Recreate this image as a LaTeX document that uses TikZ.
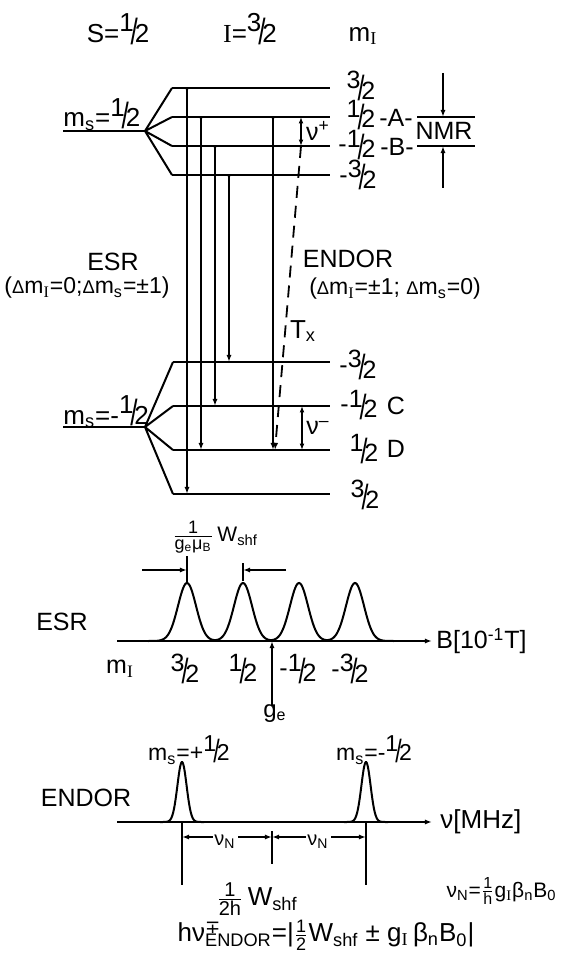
\documentclass[tikz,border=0pt]{standalone}
\usepackage{graphicx}
\usepackage{fontspec}
\setmainfont{Liberation Sans}
\newfontfamily\serifI{Liberation Serif}
\newfontfamily\dvs{DejaVu Sans}
\usetikzlibrary{arrows.meta}
\newcommand\fs[1]{\fontsize{#1}{#1}\selectfont}
\newcommand\fr[2]{\raisebox{.42em}{#1}\kern-.12em\raisebox{-.06em}{\scalebox{1}[1.4]{/}}\kern-.12em#2}
\newcommand\mn{\raisebox{.2em}{-}}
\newcommand\mI{m\textsubscript{\serifI I}}
\newcommand\mS{m\textsubscript{s}}
\newcommand\mfrac[2]{$\frac{\mbox{#1}}{\mbox{#2}}$}
\newcommand\sDelta{\scalebox{.8}{Δ}}
\pgfmathdeclarefunction{gpk}{3}{\pgfmathparse{exp(max(-20,-0.5*((#1-#2)/#3)*((#1-#2)/#3)))}}
\begin{document}
\begin{tikzpicture}[x=0.5pt,y=-0.5pt,
  every node/.style={inner sep=0pt},
  font=\fs{12.5},
  lvl/.style={line width=1.4pt},
  fan/.style={line width=1pt},
  tr/.style={line width=0.9pt},
  myarr/.style={-{Latex[length=3.6pt,width=2.6pt]}},
  esr/.style={tr,{Latex[length=2.2pt,width=2pt,reversed]}-{Latex[length=3.6pt,width=2.6pt]}},
  dbl/.style={tr,{Latex[length=3.2pt,width=2.4pt]}-{Latex[length=3.2pt,width=2.4pt]}},
  spec/.style={line width=1pt}]
\useasboundingbox (0,0) rectangle (563,957);

% ---------- headings
\node (tS) at (118,29) {\fs{13}S=\fr{1}{2}};
\node (tI) at (250,29) {\fs{13}{\serifI I}=\fr{3}{2}};
\node (tm) at (363,36) {\fs{13}\mI};

% ---------- upper manifold (m_s = 1/2)
\coordinate (U) at (145,131);
\coordinate (Ums) at (63,131);
\coordinate (L1) at (172,88);  \coordinate (L1e) at (330,88);
\coordinate (L2) at (172,117); \coordinate (L2e) at (330,117);
\coordinate (L3) at (172,146); \coordinate (L3e) at (330,146);
\coordinate (L4) at (172,175); \coordinate (L4e) at (330,175);
\draw[lvl] (Ums) -- (U);
\draw[fan] (U) -- (L1) (U) -- (L2) (U) -- (L3) (U) -- (L4);
\draw[lvl] (L1) -- (L1e) (L2) -- (L2e) (L3) -- (L3e) (L4) -- (L4e);
\node[anchor=base west] (msU) at (63,127) {\fs{13}\mS=\fr{1}{2}};

% ---------- lower manifold (m_s = -1/2)
\coordinate (D) at (145,427);
\coordinate (Dms) at (63,427);
\coordinate (M1) at (173,362); \coordinate (M1e) at (330,362);
\coordinate (M2) at (173,406); \coordinate (M2e) at (330,406);
\coordinate (M3) at (173,450); \coordinate (M3e) at (330,450);
\coordinate (M4) at (173,494); \coordinate (M4e) at (330,494);
\draw[lvl] (Dms) -- (D);
\draw[fan] (D) -- (M1) (D) -- (M2) (D) -- (M3) (D) -- (M4);
\draw[lvl] (M1) -- (M1e) (M2) -- (M2e) (M3) -- (M3e) (M4) -- (M4e);
\node[anchor=base west] (msD) at (63,424) {\fs{13}\mS=-\fr{1}{2}};

% ---------- level labels
\node (r1) at (361,86)  {\fr{3}{2}};
\node (r2) at (361,115) {\fr{1}{2}};
\node (rA) at (396,118) {-A-};
\node (r3) at (357,145) {\mn\fr{1}{2}};
\node (rB) at (397,147) {-B-};
\node (r4) at (358,175) {\mn\fr{3}{2}};
\node (s1) at (358,365) {\mn\fr{3}{2}};
\node (s2) at (359,405) {\mn\fr{1}{2}};
\node (sC) at (396,406) {C};
\node (s3) at (364,449) {\fr{1}{2}};
\node (sD) at (396,449) {D};
\node (s4) at (365,495) {\fr{3}{2}};

% ---------- transitions
\draw[esr] (187,0 |- L1) -- (187,0 |- M4);
\draw[esr] (201,0 |- L2) -- (201,0 |- M3);
\draw[esr] (215,0 |- L3) -- (215,0 |- M2);
\draw[esr] (229,0 |- L4) -- (229,0 |- M1);
\draw[esr] (273,0 |- L2) -- (273,0 |- M3);
\draw[dbl] (301,0 |- L2) -- (301,0 |- L3);
\draw[dbl] (302,0 |- M2) -- (302,0 |- M3);
\draw[tr,myarr,dash pattern=on 6pt off 4pt] (301,0 |- L3) -- (275,0 |- M3);
\node (nup) at (318,131) {ν\textsuperscript{+}};
\node (ndn) at (318,428) {ν\textsuperscript{\textendash}};
\node (tx) at (303,331) {\fs{13}T\textsubscript{x}};

% ---------- NMR
\coordinate (n1) at (417,117); \coordinate (n1e) at (475,117);
\coordinate (n2) at (417,146); \coordinate (n2e) at (475,146);
\coordinate (na) at (443,73);  \coordinate (nb) at (443,188);
\draw[tr] (n1) -- (n1e) (n2) -- (n2e);
\draw[tr,myarr] (na) -- (443,0 |- n1);
\draw[tr,myarr] (nb) -- (443,0 |- n2);
\node (nmr) at (444,131) {\fs{12.5}NMR};

% ---------- selection rules
\node (esrT) at (113,262) {\fs{12.5}ESR};
\node (esrS) at (87,288) {\fs{11.5}(\sDelta\mI=0;\sDelta\mS=±1)};
\node (endT) at (348,259) {\fs{12.5}ENDOR};
\node (endS) at (395,289) {\fs{11.5}(\sDelta\mI=±1; \sDelta\mS=0)};

% ---------- ESR spectrum
\coordinate (b0) at (117,641); \coordinate (b1) at (432,641);
\draw[spec,myarr] (b0) -- (b1);
\draw[spec] plot[domain=148:394,samples=240,smooth]
  (\x,{641-58*(gpk(\x,187,9)+gpk(\x,243,9)+gpk(\x,299,9)+gpk(\x,355,9))});
\node[anchor=west] (bax) at (436,641) {\fs{12.5}B[10\textsuperscript{-1}T]};
\node (esrL) at (62,622) {\fs{12.5}ESR};
\coordinate (dl) at (142,570); \coordinate (dr) at (286,570);
\draw[tr] (187,556) -- (187,583);
\draw[tr] (243,563) -- (243,581);
\draw[tr,myarr] (dl) -- (187,0 |- dl);
\draw[tr,myarr] (dr) -- (243,0 |- dr);
\node (wl) at (215,537) {\fs{10.5}\mfrac{\fs{9}1}{\fs{9}g\textsubscript{e}μ\textsubscript{B}}\,W\textsubscript{shf}};
\node (q0) at (120,669) {\fs{12.5}\mI};
\node (q1) at (185,669) {\fr{3}{2}};
\node (q2) at (243,669) {\fr{1}{2}};
\node (q3) at (298,669) {\mn\fr{1}{2}};
\node (q4) at (350,669) {\mn\fr{3}{2}};
\coordinate (ge0) at (272,706);
\draw[tr,myarr] (ge0) -- (272,0 |- b0);
\node[anchor=north] (ge) at (275,704) {\fs{12}g\textsubscript{e}};

% ---------- ENDOR spectrum
\coordinate (e0) at (117,822); \coordinate (e1) at (432,822);
\draw[spec,myarr] (e0) -- (e1);
\draw[spec] plot[domain=160:204,samples=90,smooth] (\x,{822-60*gpk(\x,182,4.6)});
\draw[spec] plot[domain=344:388,samples=90,smooth] (\x,{822-60*gpk(\x,366,4.6)});
\node[anchor=west] (nax) at (440,822) {\fs{13}ν[MHz]};
\node (endL) at (86,798) {\fs{12.5}ENDOR};
\node (msP) at (189,750) {\fs{11.5}\mS=+\fr{1}{2}};
\node (msM) at (374,750) {\fs{11.5}\mS=-\fr{1}{2}};
\coordinate (p1) at (182,822); \coordinate (p2) at (366,822); \coordinate (pm) at (272,822);
\draw[tr] (p1) -- ++(0,63);
\draw[tr] (p2) -- ++(0,63);
\draw[tr] (272,831) -- (272,864);
\draw[tr,myarr] (213,837) -- (p1 |- 0,837);
\draw[tr,myarr] (238,837) -- (pm |- 0,837);
\draw[tr,myarr] (306,837) -- (pm |- 0,837);
\draw[tr,myarr] (331,837) -- (p2 |- 0,837);
\node (nn1) at (225,842) {\fs{10}ν\textsubscript{N}};
\node (nn2) at (318,842) {\fs{10}ν\textsubscript{N}};
\node (wh) at (257,899) {\fs{13}\mfrac{\fs{10}1}{\fs{10}2h}\,W\textsubscript{shf}};
\node[anchor=east] (vn) at (557,891) {\fs{10.5}ν\textsubscript{N}=\mfrac{\fs{8}1}{\fs{8}h}g\textsubscript{\serifI I}β\textsubscript{n}B\textsubscript{0}};
\node (hf) at (326,935) {\fs{13}hν\rlap{\textsuperscript{\dvs∓}}\textsubscript{ENDOR}=|\mfrac{\fs{9}1}{\fs{9}2}W\textsubscript{shf} ± g\textsubscript{\serifI I}\,β\textsubscript{n}B\textsubscript{0}|};
\end{tikzpicture}
\end{document}
